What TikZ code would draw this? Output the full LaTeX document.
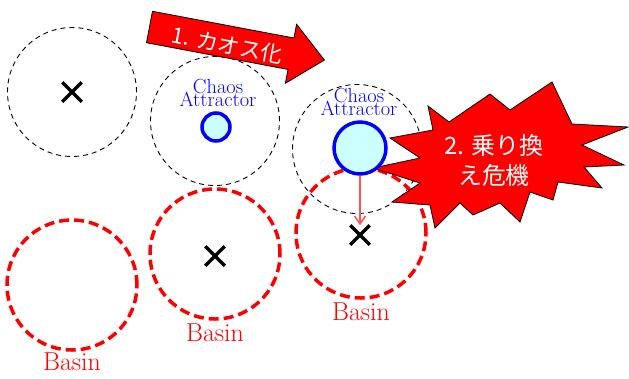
\documentclass[tikz,border=0pt]{standalone}
\usepackage{fontspec}
\newfontfamily\jpfont{Noto Sans CJK JP}
\usepackage{tikz}
\usetikzlibrary{arrows.meta,shapes.misc}
\definecolor{basinred}{RGB}{255,0,0}
\definecolor{attrblue}{RGB}{0,0,255}
\definecolor{attrfill}{RGB}{204,255,255}
\definecolor{jumpred}{RGB}{255,85,85}
\newcommand\attrfont{\rmfamily\fontsize{20.5}{13.5}\selectfont\lineskiplimit=-30pt\relax}

\begin{document}
\begin{tikzpicture}[x=1bp,y=-1bp,
  regionc/.style={circle,draw,dash pattern=on 5bp off 4bp,line width=0.9bp,minimum size=129bp,inner sep=0},
  basin/.style={circle,draw=basinred,dash pattern=on 10bp off 5bp,line width=3.5bp,minimum size=130bp,inner sep=0},
  basinlbl/.style={text=basinred,inner sep=0,font=\rmfamily\fontsize{26}{26}\selectfont},
  fixpt/.style={cross out,draw,line width=3.5bp,minimum size=16bp,inner sep=0},
  attractor/.style={circle,draw=attrblue,fill=attrfill,line width=3.5bp,inner sep=0},
  attrlbl/.style={text=attrblue,align=center,inner sep=0,font=\attrfont},
  jump/.style={jumpred,line width=1.5bp,-{Straight Barb[length=8bp,width=11bp]}},
  blockarrow/.style={fill=basinred,draw=black,line width=0.8bp,line join=miter},
  burst/.style={fill=basinred,draw=black,line width=0.8bp,line join=miter},
  redtxt/.style={text=white,inner sep=0,align=center}]
  \useasboundingbox (0,0) rectangle (629,378);
  % regions and basins
  \foreach \n/\x/\y in {1/72/92,2/215/121,3/357/149}
    \node[regionc] (d\n) at (\x,\y) {};
  \foreach \n/\x/\y/\ly in {1/72/285/362,2/215/254/333,3/361/233/312}{
    \node[basin] (b\n) at (\x,\y) {};
    \node[basinlbl] (bl\n) at (\x,\ly) {Basin};
  }
  % switching crisis
  \draw[burst] (390,138) -- (433,130) -- (428,106) -- (449,122) -- (490,94)
    -- (510,110) -- (552,82) -- (572,124) -- (628,127) -- (582,145)
    -- (624,165) -- (584,167) -- (602,188) -- (558,182) -- (553,200)
    -- (530,192) -- (520,222) -- (500,203) -- (473,215) -- (460,203)
    -- (435,228) -- (430,205) -- (392,202) -- (420,183) -- (373,168)
    -- (420,158) -- cycle;
  \node[redtxt,font=\jpfont\fontsize{24}{30}\selectfont] (crisis) at (494,160) {2. 乗り換\\え危機};
  % attractors
  \node[attractor,minimum size=28bp] (a1) at (216,127) {};
  \node[attractor,minimum size=52bp] (a2) at (360,148) {};
  \node[attrlbl] (al1) at (218,93) {Chaos\\Attractor};
  \node[attrlbl] (al2) at (359,102) {Chaos\\Attractor};
  \foreach \n/\x/\y in {1/72/92,2/215/256,3/360/235}
    \node[fixpt] (x\n) at (\x,\y) {};
  \draw[jump] (a2) -- (x3);
  % chaotification arrow
  \begin{scope}[shift={(149.5,27)},rotate=-10.7]
    \draw[blockarrow] (0,-16) -- (144,-16) -- (144,-30) -- (178,0) -- (144,30)
      -- (144,16) -- (0,16) -- cycle;
    \node[redtxt,rotate=-10.7,font=\jpfont\fontsize{22}{22}\selectfont] (chaotic) at (80,3) {1. カオス化};
  \end{scope}
\end{tikzpicture}
\end{document}
